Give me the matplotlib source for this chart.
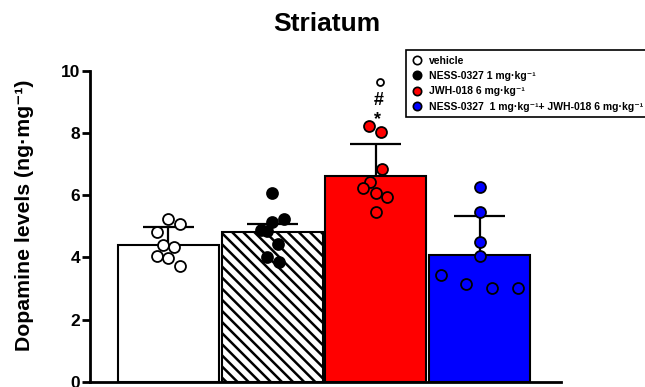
import matplotlib
matplotlib.use("Agg")
import matplotlib.pyplot as plt
from matplotlib.lines import Line2D
import numpy as np

plt.rcParams["font.family"] = ["Liberation Sans", "DejaVu Sans"]
plt.rcParams["font.weight"] = "bold"
plt.rcParams["hatch.linewidth"] = 1.8

# Group data (ng/mg)
groups = ["vehicle", "NESS-0327 1 mg·kg⁻¹", "JWH-018 6 mg·kg⁻¹",
          "NESS-0327  1 mg·kg⁻¹+ JWH-018 6 mg·kg⁻¹"]
means = [4.41, 4.81, 6.63, 4.09]
errors = [0.57, 0.26, 1.03, 1.25]

vehicle_pts = [5.24, 5.08, 4.83, 4.41, 4.33, 4.04, 3.97, 3.72]
ness_pts = [6.07, 5.24, 5.13, 4.88, 4.86, 4.42, 4.01, 3.85]
jwh_pts = [8.22, 8.03, 6.84, 6.43, 6.22, 6.06, 5.95, 5.46]
combo_pts = [6.27, 5.45, 4.51, 4.05, 3.44, 3.15, 3.03, 3.03]

# horizontal scatter of the dots inside each bar
vehicle_jit = [0, 0.11, -0.11, -0.055, 0.055, -0.11, 0, 0.11]
ness_jit = [0, 0.11, 0, -0.11, -0.05, 0.06, -0.05, 0.065]
jwh_jit = [-0.065, 0.05, 0.055, -0.058, -0.12, 0, 0.11, 0]
combo_jit = [0, 0, 0, 0, -0.375, -0.13, 0.12, 0.37]

points = [vehicle_pts, ness_pts, jwh_pts, combo_pts]
jitters = [vehicle_jit, ness_jit, jwh_jit, combo_jit]

bar_colors = ["white", "white", "#ff0000", "#0000ff"]
bar_hatch = [None, "\\\\\\", None, None]
dot_colors = ["white", "black", "#ff0000", "#0000ff"]

fig = plt.figure(figsize=(6.45, 3.87), dpi=100)
ax = fig.add_axes([0.1395, 0.0129, 0.7303, 0.8044])

x = np.arange(len(groups))
for i in x:
    ax.bar(i, means[i], width=0.975, color=bar_colors[i], hatch=bar_hatch[i],
           edgecolor="black", linewidth=1.5, zorder=2)
    # upper error bar
    ax.vlines(i, means[i], means[i] + errors[i], color="black", lw=1.6, zorder=3)
    ax.hlines(means[i] + errors[i], i - 0.245, i + 0.245, color="black", lw=1.6, zorder=3)
    ax.scatter(i + np.array(jitters[i]), points[i], s=62, facecolor=dot_colors[i],
               edgecolor="black", linewidth=1.3, zorder=4)

# significance marks above JWH-018
ax.text(2.02, 8.30, "*", ha="center", va="baseline", fontsize=13, fontweight="bold")
ax.text(2.03, 8.90, "#", ha="center", va="baseline", fontsize=13, fontweight="bold")
ax.plot(2.04, 9.65, marker="o", ms=5, mfc="white", mec="black", mew=1.3, zorder=5)

ax.set_xlim(-0.757, 3.785)
ax.set_ylim(0, 10)
ax.set_yticks([0, 2, 4, 6, 8, 10])
ax.set_xticks([])
for s in ["top", "right"]:
    ax.spines[s].set_visible(False)
for s in ["left", "bottom"]:
    ax.spines[s].set_linewidth(2)
ax.tick_params(axis="y", width=2, length=6, labelsize=12.5, pad=1)
for lab in ax.get_yticklabels():
    lab.set_fontweight("bold")

fig.text(0.507, 0.938, "Striatum", ha="center", va="center", fontsize=19, fontweight="bold")
fig.text(0.038, 0.444, "Dopamine levels (ng·mg⁻¹)", rotation=90, ha="center",
         va="center", fontsize=15.3, fontweight="bold")

handles = [Line2D([], [], ls="none", marker="o", ms=6, mfc=c, mec="black", mew=1.2)
           for c in dot_colors]
leg = ax.legend(handles, groups, loc="upper left", bbox_to_anchor=(401 / 645, 1 - 45 / 387),
                bbox_transform=fig.transFigure, fancybox=False, framealpha=1,
                edgecolor="black", handlelength=1.0, handletextpad=0.6,
                borderpad=0.55, labelspacing=0.5, prop={"size": 7.5, "weight": "bold"})
leg.get_frame().set_linewidth(1.2)

fig.savefig("out.png", dpi=100)
